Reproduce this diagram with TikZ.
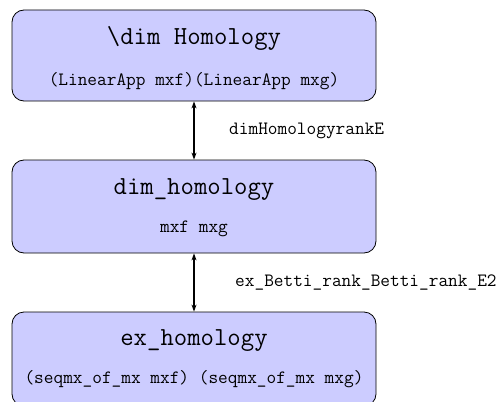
\documentclass[tikz,border=0pt]{standalone}
\usepackage{fontspec}
\usetikzlibrary{arrows.meta}
\begin{document}
\begin{tikzpicture}[x=1pt,y=-1pt,
  boxstyle/.style={draw=black, line width=0.8pt, fill=blue!20, rounded corners=12pt,
    minimum width=364pt, inner sep=0pt},
  titlestyle/.style={font=\ttfamily\fontsize{26}{30}\selectfont, anchor=base, inner sep=0pt},
  substyle/.style={font=\ttfamily\fontsize{18.8}{22}\selectfont, anchor=base, inner sep=0pt},
  edgelabel/.style={font=\ttfamily\fontsize{18.8}{22}\selectfont, anchor=west, inner sep=0pt},
  linkstyle/.style={{Stealth[length=7pt,width=5pt]}-{Stealth[length=7pt,width=5pt]}, line width=1.1pt}
]
\useasboundingbox (0,0) rectangle (502,401);
\node[boxstyle, minimum height=91pt] (b1) at (194,55.5) {};
\node[boxstyle, minimum height=93pt] (b2) at (194,206.5) {};
\node[boxstyle, minimum height=94pt] (b3) at (194,359) {};
\node[titlestyle] (t1) at (194,45) {\textbackslash dim Homology};
\node[substyle] (s1) at (194,85) {(LinearApp mxf)(LinearApp mxg)};
\node[titlestyle] (t2) at (194,194) {dim\_homology};
\node[substyle] (s2) at (194,232) {mxf mxg};
\node[titlestyle] (t3) at (194,345) {ex\_homology};
\node[substyle] (s3) at (194,383) {(seqmx\_of\_mx mxf) (seqmx\_of\_mx mxg)};
\draw[linkstyle] (b1.south) -- (b2.north) coordinate[midway] (m1);
\draw[linkstyle] (b2.south) -- (b3.north) coordinate[midway] (m2);
\node[edgelabel] (l1) at ([xshift=35pt]m1) {dimHomologyrankE};
\node[edgelabel] (l2) at ([xshift=41pt]m2) {ex\_Betti\_rank\_Betti\_rank\_E2};
\end{tikzpicture}
\end{document}
